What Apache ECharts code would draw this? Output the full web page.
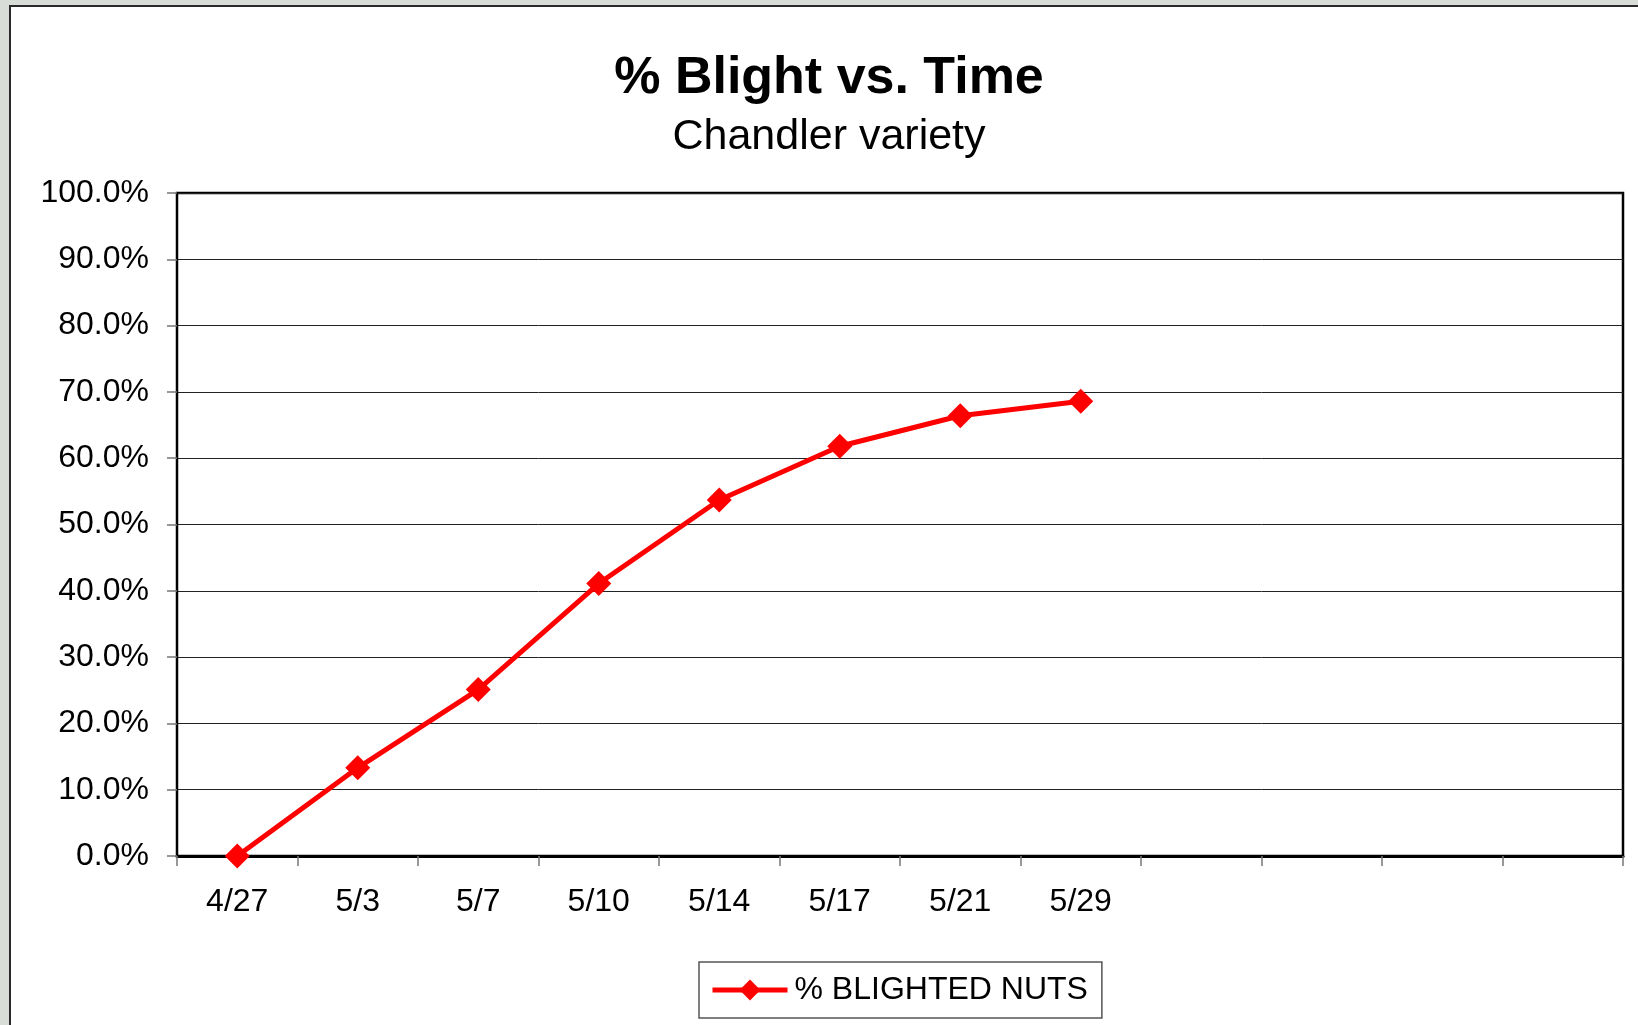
<!DOCTYPE html>
<html>
<head>
<meta charset="utf-8">
<title>% Blight vs. Time</title>
<script src="https://cdn.jsdelivr.net/npm/echarts@6/dist/echarts.min.js"></script>
<style>
  html, body { margin: 0; padding: 0; background: #d9ddd7; }
  #chart { width: 1638px; height: 1025px; }
</style>
</head>
<body>
<div id="chart"></div>
<script>
// Sampling dates (the axis keeps four empty slots after the last sample)
const dates = ['4/27', '5/3', '5/7', '5/10', '5/14', '5/17', '5/21', '5/29', '', '', '', ''];
// Percentage of blighted nuts, Chandler variety
const blightedPct = [0, 13.3, 25.1, 41.1, 53.7, 61.8, 66.4, 68.6];
// Value-axis range and step (percent)
const yMin = 0;
const yMax = 100;
const yStep = 10;

const FONT = '"Liberation Sans", Arial, Helvetica, sans-serif';
const chart = echarts.init(document.getElementById('chart'), null, { renderer: 'canvas' });

chart.setOption({
  backgroundColor: '#d9ddd7',
  animation: false,
  graphic: [{
    type: 'rect',
    z: -100,
    silent: true,
    shape: { x: 10, y: 6, width: 1700, height: 1100 },
    style: { fill: '#ffffff', stroke: '#2a2a2a', lineWidth: 2 }
  }],
  title: [{
    text: '% Blight vs. Time',
    left: 829,
    top: 53,
    textAlign: 'center',
    padding: 0,
    textStyle: { fontFamily: FONT, fontSize: 52, fontWeight: 'bold', color: '#000' }
  }, {
    text: 'Chandler variety',
    left: 829,
    top: 116,
    textAlign: 'center',
    padding: 0,
    textStyle: { fontFamily: FONT, fontSize: 43, fontWeight: 'normal', color: '#000' }
  }],
  legend: {
    left: 699,
    top: 962,
    orient: 'horizontal',
    padding: [12, 14, 12, 11],
    itemWidth: 75,
    itemHeight: 26,
    itemGap: 10,
    backgroundColor: '#ffffff',
    borderColor: '#555',
    borderWidth: 1.5,
    lineStyle: { width: 5 },
    textStyle: { fontFamily: FONT, fontSize: 32, color: '#000', padding: [0, 0, 0, 2] },
    data: ['% BLIGHTED NUTS']
  },
  grid: {
    left: 177,
    top: 193,
    right: 15,
    bottom: 169,
    show: true,
    backgroundColor: '#ffffff',
    borderColor: '#000',
    borderWidth: 2.5,
    containLabel: false
  },
  xAxis: {
    type: 'category',
    data: dates,
    boundaryGap: true,
    axisLine: { show: true, lineStyle: { color: '#000', width: 3 } },
    axisTick: { show: true, alignWithLabel: false, length: 10, lineStyle: { color: '#777', width: 1.5 } },
    axisLabel: { interval: 0, margin: 30, fontFamily: FONT, fontSize: 32, color: '#000' },
    splitLine: { show: false }
  },
  yAxis: {
    type: 'value',
    min: yMin,
    max: yMax,
    interval: yStep,
    axisLine: { show: true, lineStyle: { color: '#000', width: 2 } },
    axisTick: { show: true, length: 10, lineStyle: { color: '#777', width: 1.5 } },
    axisLabel: {
      margin: 28,
      fontFamily: FONT,
      fontSize: 32,
      color: '#000',
      formatter: v => v.toFixed(1) + '%'
    },
    splitLine: { show: true, lineStyle: { color: '#222', width: 1 } }
  },
  series: [{
    name: '% BLIGHTED NUTS',
    type: 'line',
    data: blightedPct,
    symbol: 'diamond',
    symbolSize: 25,
    showAllSymbol: true,
    clip: false,
    itemStyle: { color: '#ff0000' },
    lineStyle: { color: '#ff0000', width: 5 },
    emphasis: { disabled: true }
  }]
});
</script>
</body>
</html>
